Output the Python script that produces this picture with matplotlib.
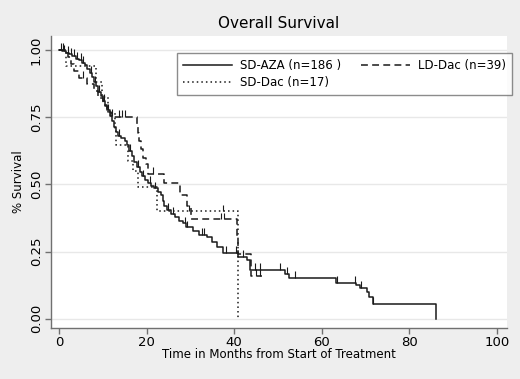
import numpy as np
import matplotlib
matplotlib.use("Agg")
import matplotlib.pyplot as plt

# Kaplan-Meier steps (time in months, survival after the step)
aza_t = [0, 0.8, 1.5, 2.2, 3.0, 3.8, 4.5, 5.3, 6.0, 6.5, 7.0, 7.5, 8.0, 8.5, 9.0,
         9.5, 10.0, 10.5, 11.0, 11.6, 12.2, 12.6, 13.0, 13.5, 14.2, 15.0, 15.5,
         16.0, 16.6, 17.2, 17.8, 18.4, 19.0, 19.7, 20.3, 21.0, 21.8, 22.5, 23.2,
         23.7, 24.0, 24.6, 25.5, 26.5, 27.3, 28.3, 29.0, 30.6, 32.0, 33.8, 35.0,
         36.0, 37.5, 40.9, 42.9, 43.6, 51.5, 52.5, 63.2, 67.8, 68.8, 70.4, 70.9,
         71.6, 86.0]
aza_s = [1.0, 0.995, 0.989, 0.984, 0.978, 0.968, 0.962, 0.952, 0.946, 0.93, 0.915,
         0.90, 0.88, 0.865, 0.845, 0.83, 0.81, 0.79, 0.775, 0.755, 0.735, 0.715,
         0.695, 0.68, 0.672, 0.662, 0.645, 0.625, 0.605, 0.585, 0.565, 0.548, 0.53,
         0.515, 0.505, 0.495, 0.485, 0.472, 0.46, 0.44, 0.42, 0.405, 0.39, 0.378,
         0.365, 0.355, 0.34, 0.325, 0.312, 0.305, 0.286, 0.268, 0.245, 0.23, 0.22,
         0.182, 0.167, 0.152, 0.134, 0.124, 0.115, 0.098, 0.082, 0.056, 0.0]
aza_cens = [0.5, 1.2, 2.0, 2.8, 3.5, 4.2, 5.0, 5.6, 7.2, 8.3, 9.2, 10.2, 11.3, 12.0,
            13.8, 16.3, 18.0, 19.3, 20.8, 22.0, 25.0, 26.0, 28.8, 29.3, 32.7, 33.1,
            38.2, 40.5, 42.0, 44.7, 46.0, 50.5, 52.0, 54.0, 63.5, 67.5, 69.0, 71.8]
aza_end = 86.0

ld_t = [0, 2.0, 2.8, 3.5, 4.5, 6.5, 8.0, 9.0, 10.0, 11.0, 11.8, 17.8, 18.0, 18.3,
        18.8, 19.3, 19.8, 20.3, 24.0, 27.6, 29.3, 30.2, 40.6, 40.8, 43.8]
ld_s = [1.0, 0.974, 0.949, 0.923, 0.897, 0.872, 0.846, 0.82, 0.795, 0.77, 0.75,
        0.72, 0.69, 0.66, 0.63, 0.60, 0.575, 0.54, 0.505, 0.46, 0.42, 0.37, 0.30,
        0.24, 0.16]
ld_cens = [1.0, 5.5, 13.8, 14.3, 15.0, 21.5, 37.0, 37.7, 45.0, 46.0]
ld_end = 46.3

sd_t = [0, 1.5, 8.5, 9.8, 11.2, 12.8, 13.0, 15.8, 17.0, 18.0, 22.4, 40.8]
sd_s = [1.0, 0.941, 0.882, 0.824, 0.765, 0.706, 0.647, 0.588, 0.55, 0.49, 0.40, 0.0]
sd_cens = [29.8, 37.5]
sd_end = 40.8

labels = ["SD-AZA (n=186 )", "SD-Dac (n=17)", "LD-Dac (n=39)"]
x_ticks = [0, 20, 40, 60, 80, 100]
y_ticks = [0.0, 0.25, 0.50, 0.75, 1.00]

bg = "#eeeeee"
ink = "#1a1a1a"
axis_col = "#707070"
plt.rcParams["font.family"] = "DejaVu Sans"

fig = plt.figure(figsize=(5.2, 3.79), dpi=100, facecolor=bg)
ax = fig.add_axes([0.098, 0.135, 0.877, 0.770])
ax.set_facecolor("white")


def km_curve(t, s, end):
    xs = list(t)
    ys = list(s)
    if end > xs[-1]:
        xs.append(end)
        ys.append(ys[-1])
    return np.array(xs), np.array(ys)


def surv_at(t, s, when):
    i = np.searchsorted(t, when, side="right") - 1
    return np.asarray(s)[i]


curves = [
    (aza_t, aza_s, aza_cens, aza_end, "-", labels[0]),
    (sd_t, sd_s, sd_cens, sd_end, (0, (1, 2)), labels[1]),
    (ld_t, ld_s, ld_cens, ld_end, (0, (4.5, 2.8)), labels[2]),
]

handles = []
for t, s, cens, end, ls, lab in curves:
    xs, ys = km_curve(t, s, end)
    h, = ax.plot(xs, ys, drawstyle="steps-post", color=ink, lw=1.1, ls=ls,
                 label=lab, zorder=3)
    handles.append(h)
    # censoring marks
    cy = surv_at(t, s, np.array(cens))
    ax.vlines(cens, cy, cy + 0.025, color=ink, lw=0.8, zorder=3)

ax.set_xlim(-1.83, 102.3)
ax.set_ylim(-0.0335, 1.052)
ax.set_xticks(x_ticks)
ax.set_yticks(y_ticks)
ax.set_yticklabels([f"{v:.2f}" for v in y_ticks], rotation=90, va="center")
ax.grid(axis="y", color="#e8e8e8", lw=1.0, zorder=0)
ax.set_axisbelow(True)

for side in ["top", "right"]:
    ax.spines[side].set_visible(False)
for side in ["left", "bottom"]:
    ax.spines[side].set_color(axis_col)
    ax.spines[side].set_linewidth(1.0)
ax.tick_params(colors=axis_col, labelcolor="black", labelsize=9.5, length=4,
               width=1.0, pad=2)

ax.set_xlabel("Time in Months from Start of Treatment", fontsize=8.5, labelpad=-1)
ax.set_ylabel("% Survival", fontsize=8.5, labelpad=3)
fig.text(0.536, 0.937, "Overall Survival", fontsize=11, ha="center", va="center")

leg = ax.legend(handles=handles, ncol=2, loc="upper left",
                bbox_to_anchor=(0.276, 0.942), fontsize=8.5,
                handlelength=4.1, handletextpad=0.7, columnspacing=1.7,
                frameon=True, fancybox=False, borderaxespad=0, labelspacing=0.3,
                borderpad=0.55)
leg.get_frame().set_edgecolor(axis_col)
leg.get_frame().set_linewidth(1.0)

fig.savefig("out.png", dpi=100, facecolor=bg)
